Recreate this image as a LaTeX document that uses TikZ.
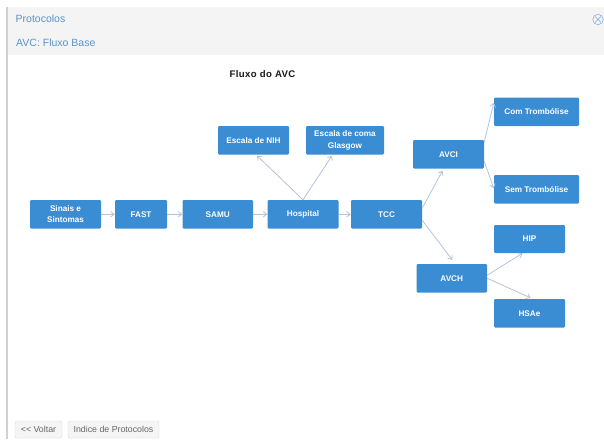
\documentclass[tikz,border=0pt]{standalone}
\usepackage{fontspec}
\setmainfont{Liberation Sans}
\usetikzlibrary{arrows.meta,calc}
\definecolor{boxblue}{HTML}{3A8CD3}
\definecolor{linkblue}{HTML}{5B93C9}
\definecolor{arrowc}{HTML}{B3C4DE}
\definecolor{headbg}{HTML}{F4F4F4}
\tikzset{
  flowbox/.style={fill=boxblue,rounded corners=1.2pt,text=white,align=center,inner sep=0pt,
    font=\fontsize{8.2}{11.5}\selectfont\bfseries},
  flowarrow/.style={draw=arrowc,line width=0.8pt,-{Straight Barb[length=3.5pt,width=5.5pt]}},
  headtext/.style={text=linkblue,anchor=west,inner sep=0pt,font=\fontsize{10.5}{12}\selectfont},
  btn/.style={draw=black!15,fill=black!4,rounded corners=1.5pt,text=black!60,inner sep=0pt,
    font=\fontsize{8.8}{10}\selectfont},
}
\newcommand{\fbx}[6]{% name, x0, y0, x1, y1, text
  \node[flowbox,minimum width=#4pt-#2pt,minimum height=#5pt-#3pt] (#1) at ({(#2+#4)/2},{(#3+#5)/2}) {#6};}
\begin{document}
\begin{tikzpicture}[x=1pt,y=-1pt]
\useasboundingbox (0,0) rectangle (604,439);
\fill[white] (0,0) rectangle (604,439);
% panel
\fill[black!18] (6,7) rectangle (8,439);
\fill[headbg] (8,7) rectangle (604,55);
\node[headtext] (proto) at (15.5,19) {Protocolos};
\node[headtext] (sub) at (16,42.5) {AVC: Fluxo Base};
\node[circle,draw=linkblue!80,line width=0.5pt,minimum size=10.5pt,inner sep=0pt] (close) at (598,19.5) {};
\draw[linkblue!80,line width=0.5pt] ($(close.center)+(-3,-3)$) -- ($(close.center)+(3,3)$)
  ($(close.center)+(-3,3)$) -- ($(close.center)+(3,-3)$);
\node[inner sep=0pt,text=black!90,font=\fontsize{9.6}{11}\selectfont\bfseries] (title) at (262.5,74) {\addfontfeatures{LetterSpace=4}Fluxo do AVC};
% boxes
\fbx{sinais}{30}{200}{101}{228.5}{Sinais e\\Sintomas}
\fbx{fast}{115}{200}{167}{228.5}{FAST}
\fbx{samu}{182.5}{200}{253}{228.5}{SAMU}
\fbx{hosp}{267.5}{200}{338.5}{228.5}{Hospital}
\fbx{tcc}{351}{200}{422}{228.5}{TCC}
\fbx{nih}{218}{126}{289}{154.5}{Escala de NIH}
\fbx{glasgow}{306}{126}{384}{154.5}{Escala de coma\\Glasgow}
\fbx{avci}{413}{140}{484}{168.5}{AVCI}
\fbx{com}{494}{97.5}{579}{126}{Com Trombólise}
\fbx{sem}{494}{175}{579}{203.5}{Sem Trombólise}
\fbx{hip}{494}{225}{565}{253}{HIP}
\fbx{avch}{416.5}{264}{487}{292.5}{AVCH}
\fbx{hsae}{494}{299}{565}{327.5}{HSAe}
% connectors
\draw[flowarrow] (sinais.east) -- (fast.west);
\draw[flowarrow] (fast.east) -- (samu.west);
\draw[flowarrow] (samu.east) -- (hosp.west);
\draw[flowarrow] (hosp.east) -- (tcc.west);
\draw[flowarrow] (hosp.north) -- ($(nih.south)+(3.5,1)$);
\draw[flowarrow] (hosp.north) -- ($(glasgow.south)+(-13,1)$);
\draw[flowarrow] ($(tcc.east)+(0,-6)$) -- ($(avci.south)+(-6,2)$);
\draw[flowarrow] ($(tcc.east)+(0,6)$) -- ($(avch.north)+(0.5,-4)$);
\draw[flowarrow] ($(avci.east)+(0,-12)$) -- ($(com.west)+(0,-9)$);
\draw[flowarrow] ($(avci.east)+(0,7)$) -- ($(sem.west)+(0,-1)$);
\draw[flowarrow] ($(avch.east)+(0,-3)$) -- ($(hip.south)+(-7,0)$);
\draw[flowarrow] ($(avch.east)+(0,0)$) -- ($(hsae.north)+(1,-1)$);
% buttons
\node[btn,minimum width=47pt,minimum height=17pt] (back) at (38.5,429.5) {{<}{<} Voltar};
\node[btn,minimum width=91pt,minimum height=17pt] (index) at (113.5,429.5) {Indice de Protocolos};
\end{tikzpicture}
\end{document}
